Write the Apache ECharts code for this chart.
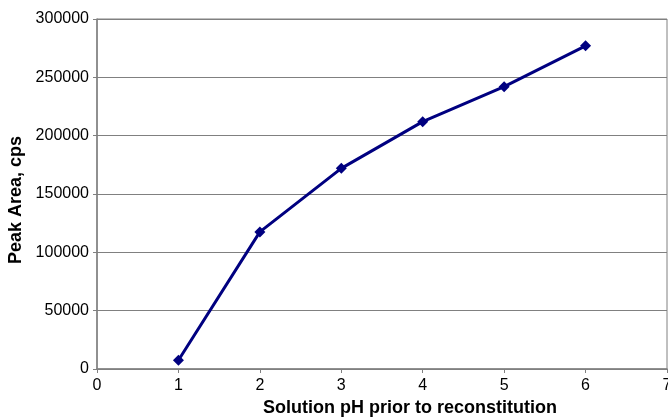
<!DOCTYPE html>
<html>
<head>
<meta charset="utf-8">
<script src="https://cdn.jsdelivr.net/npm/echarts@6/dist/echarts.min.js"></script>
<style>
  html, body { margin: 0; padding: 0; background: #fff; }
  #chart { width: 668px; height: 418px; }
</style>
</head>
<body>
<div id="chart"></div>
<script>
// data
var phValues = [1, 2, 3, 4, 5, 6];
var peakArea = [7500, 117500, 172000, 212000, 242000, 277000];
var xTicks = [0, 1, 2, 3, 4, 5, 6, 7];
var yTicks = [0, 50000, 100000, 150000, 200000, 250000, 300000];

var points = [];
for (var i = 0; i < phValues.length; i++) {
  points.push([phValues[i], peakArea[i]]);
}

var myChart = echarts.init(document.getElementById('chart'));
var option = {
  animation: false,
  textStyle: { fontFamily: 'Liberation Sans, Arial, sans-serif' },
  grid: {
    left: 97, right: 1, top: 19, bottom: 49,
    containLabel: false, outerBoundsMode: 'none',
    show: true, borderColor: '#808080', borderWidth: 1
  },
  xAxis: {
    type: 'value',
    min: xTicks[0],
    max: xTicks[xTicks.length - 1],
    interval: 1,
    name: 'Solution pH prior to reconstitution',
    nameLocation: 'middle',
    nameGap: 24,
    nameTextStyle: { fontSize: 18, fontWeight: 'bold', color: '#000', padding: [0, 0, 0, 56] },
    axisLine: { lineStyle: { color: '#808080', width: 1.5 } },
    axisTick: { show: true, length: 4, lineStyle: { color: '#808080' } },
    axisLabel: { fontSize: 16, color: '#000', margin: 9 },
    splitLine: { show: false }
  },
  yAxis: {
    type: 'value',
    min: yTicks[0],
    max: yTicks[yTicks.length - 1],
    interval: 50000,
    name: 'Peak Area, cps',
    nameLocation: 'middle',
    nameGap: 68,
    nameTextStyle: { fontSize: 18, fontWeight: 'bold', color: '#000', padding: [0, 12, 0, 0] },
    axisLine: { show: true, lineStyle: { color: '#808080', width: 1.5 } },
    axisTick: { show: true, length: 4, lineStyle: { color: '#808080' } },
    axisLabel: { fontSize: 16, color: '#000', margin: 8, formatter: function (v) { return String(v); } },
    splitLine: { show: true, lineStyle: { color: '#808080', width: 1.2 } }
  },
  series: [
    {
      type: 'line',
      data: points,
      symbol: 'diamond',
      symbolSize: 11,
      lineStyle: { color: '#000080', width: 3 },
      itemStyle: { color: '#000080' }
    }
  ]
};
myChart.setOption(option);
</script>
</body>
</html>
